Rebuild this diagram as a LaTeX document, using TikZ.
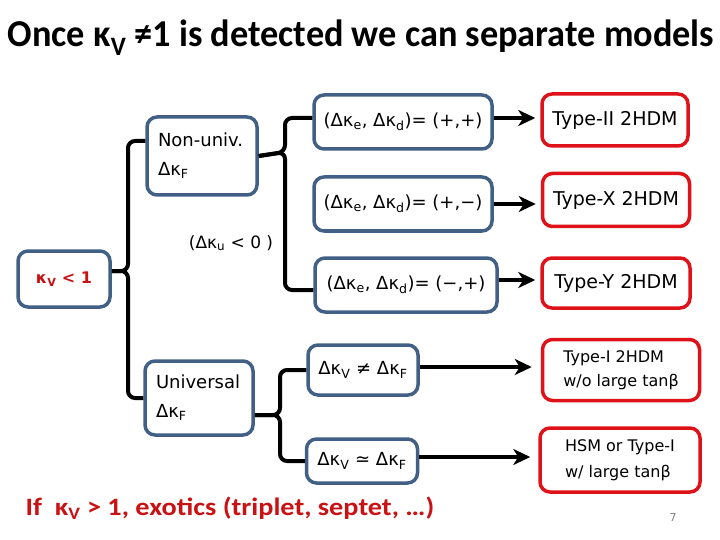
\documentclass[tikz,border=0pt]{standalone}
\usepackage{fontspec}
\setmainfont{DejaVu Sans}
\newfontfamily\titlefont{Carlito}[FakeStretch=0.955]
\newfontfamily\notefont{Carlito}[FakeStretch=1.13]
\usetikzlibrary{arrows.meta, calc}

\definecolor{condblue}{RGB}{66,96,134}
\definecolor{modelred}{RGB}{222,18,24}
\definecolor{notered}{RGB}{200,18,20}

\begin{document}
\begin{tikzpicture}[
    x=1pt, y=-1pt,
    every node/.style={font=\fontsize{18}{29}\selectfont, align=center, inner sep=0pt},
    cond/.style={draw=condblue, line width=3.5pt, rounded corners=10pt},
    model/.style={draw=modelred, line width=3.5pt, rounded corners=10pt},
    link/.style={line width=4pt, rounded corners=7pt},
    arr/.style={line width=4pt, -{Stealth[length=17pt, width=16pt, inset=5pt]}, shorten >=5pt}
]
\useasboundingbox (0,0) rectangle (720,540);

% title and footer
\node[font=\titlefont\bfseries\fontsize{38}{40}\selectfont] (title) at (361,38)
    {Once κ\textsubscript{V} ≠1 is detected we can separate models};
\node[font=\notefont\bfseries\fontsize{25}{28}\selectfont, text=notered] (note) at (230,508)
    {If~ κ\textsubscript{V} > 1, exotics (triplet, septet, …)};
\node[font=\fontsize{11}{12}\selectfont, text=gray] (page) at (673,517) {7};

% conditions
\node[cond, minimum width=92pt, minimum height=56pt, text=notered,
      font=\bfseries\fontsize{16}{20}\selectfont] (kv) at (64,279) {κ\textsubscript{V} < 1};
\node[cond, minimum width=110pt, minimum height=78pt, text width=88pt, align=left] (nonuniv) at (202,156)
    {Non-univ.\\Δκ\textsubscript{F}};
\node[cond, minimum width=108pt, minimum height=74pt, text width=86pt, align=left] (univ) at (199,398)
    {Universal\\Δκ\textsubscript{F}};
\node[font=\fontsize{17}{20}\selectfont] (ku) at (231,243) {(Δκ\textsubscript{u} < 0 )};

\node[cond, minimum width=178pt, minimum height=54pt] (pp) at (403,122)
    {(Δκ\textsubscript{e}, Δκ\textsubscript{d})= (+,+)};
\node[cond, minimum width=178pt, minimum height=54pt] (pm) at (403,204)
    {(Δκ\textsubscript{e}, Δκ\textsubscript{d})= (+,−)};
\node[cond, minimum width=182pt, minimum height=54pt] (mp) at (406,285)
    {(Δκ\textsubscript{e}, Δκ\textsubscript{d})= (−,+)};
\node[cond, minimum width=110pt, minimum height=50pt] (neq) at (363,370)
    {Δκ\textsubscript{V} ≠ Δκ\textsubscript{F}};
\node[cond, minimum width=111pt, minimum height=44pt] (sim) at (362,461)
    {Δκ\textsubscript{V} ≃ Δκ\textsubscript{F}};

% models
\node[model, minimum width=146pt, minimum height=52pt, font=\fontsize{19}{22}\selectfont] (typeii) at (615,120) {Type-II 2HDM};
\node[model, minimum width=147pt, minimum height=53pt, font=\fontsize{19}{22}\selectfont] (typex) at (616,200) {Type-X 2HDM};
\node[model, minimum width=148pt, minimum height=50pt, font=\fontsize{19}{22}\selectfont] (typey) at (616,283) {Type-Y 2HDM};
\node[model, minimum width=157pt, minimum height=61pt, align=left,
      font=\fontsize{16}{24}\selectfont] (typei) at (621,370) {Type-I 2HDM\\w/o large tanβ};
\node[model, minimum width=160pt, minimum height=64pt, align=left,
      font=\fontsize{16}{26}\selectfont] (hsm) at (620,460) {HSM or Type-I\\w/ large tanβ};

% branches
\coordinate (forkkv) at (128,271);
\coordinate (forknu) at (285,152);
\coordinate (forkun) at (280,415);
\draw[link] ($(kv.east)+(0,-8)$) -- (forkkv) |- ($(nonuniv.west)+(0,-15)$);
\draw[link] ($(kv.east)+(0,-8)$) -- (forkkv) |- (univ.west);
\draw[link] (nonuniv.east) -- (forknu) |- ($(pp.west)+(0,-4)$);
\draw[link] (nonuniv.east) -- (forknu) |- ($(mp.west)+(0,5)$);
\draw[link] ($(univ.east)+(0,17)$) -- (forkun) |- (neq.west);
\draw[link] ($(univ.east)+(0,17)$) -- (forkun) |- (sim.west);

% arrows to models
\draw[arr] ($(pp.east)+(0,-4)$) -- (typeii.west |- {$(pp.east)+(0,-4)$});
\draw[arr] (pm.east) -- (typex.west |- pm.east);
\draw[arr] ($(mp.east)+(0,-5)$) -- (typey.west |- {$(mp.east)+(0,-5)$});
\draw[arr] ($(neq.east)+(0,-3)$) -- ($(typei.west |- neq.east)+(-4,-3)$);
\draw[arr] ($(sim.east)+(0,-4)$) -- ($(hsm.west |- sim.east)+(-3,-4)$);
\end{tikzpicture}
\end{document}
